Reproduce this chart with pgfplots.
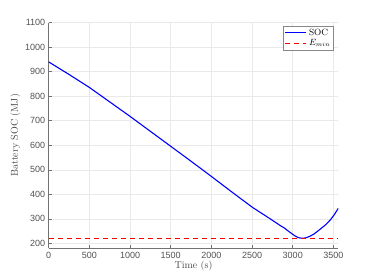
\documentclass[border=0pt]{standalone}
\usepackage{fontspec}
\usepackage{pgfplots}
\pgfplotsset{compat=1.18}
\newfontfamily\ticksf{Liberation Sans}
\definecolor{axgray}{RGB}{38,38,38}
\definecolor{gridgray}{RGB}{233,233,233}
\begin{document}
\begin{tikzpicture}
\useasboundingbox (-48.7pt,-31.7pt) rectangle (325.3pt,248.3pt);
\begin{axis}[
  at={(0pt,0pt)}, anchor=south west,
  scale only axis, width=289.6pt, height=225.6pt,
  xmin=0, xmax=3560, ymin=180, ymax=1100,
  xtick={0,500,...,3500}, ytick={200,300,...,1100},
  axis x line*=bottom, axis y line*=left,
  axis line style={axgray!65, line width=0.6pt},
  tick style={axgray!65, line width=0.6pt},
  tick align=inside, major tick length=3pt,
  grid=major, major grid style={gridgray, line width=0.6pt},
  ticklabel style={font=\ticksf\fontsize{9}{10}\selectfont, text=axgray!80},
  /pgf/number format/assume math mode=true,
  /pgf/number format/1000 sep={},
  xlabel={Time (s)}, ylabel={Battery SOC (MJ)},
  label style={font=\fontsize{10}{12}\selectfont, text=axgray!85},
  xlabel style={yshift=4pt},
  ylabel style={yshift=-2pt},
  legend style={at={(0.983,0.987)}, anchor=north east, draw=axgray!55, line width=0.4pt,
    font=\fontsize{9}{10}\selectfont, inner sep=1pt, row sep=-1pt, legend cell align=left},
  legend image post style={xscale=1.25},
]
\addplot[blue, line width=1.1pt] coordinates {
(0,940) (250,889) (500,836) (750,777) (1000,718) (1250,657) (1500,596)
(1750,535) (2000,473) (2250,410) (2500,348) (2700,305) (2850,272) (2900,262)
(2950,249) (3000,237) (3030,230) (3060,225) (3090,222) (3120,221) (3150,222)
(3180,225) (3210,229) (3260,238) (3330,256) (3400,275) (3460,295) (3510,317) (3560,343)
};
\addlegendentry{SOC}
\addplot[red, line width=1.1pt, dash pattern=on 5pt off 4pt] coordinates {(0,221) (3560,221)};
\addlegendentry{$E_{min}$}
\end{axis}
\end{tikzpicture}
\end{document}
